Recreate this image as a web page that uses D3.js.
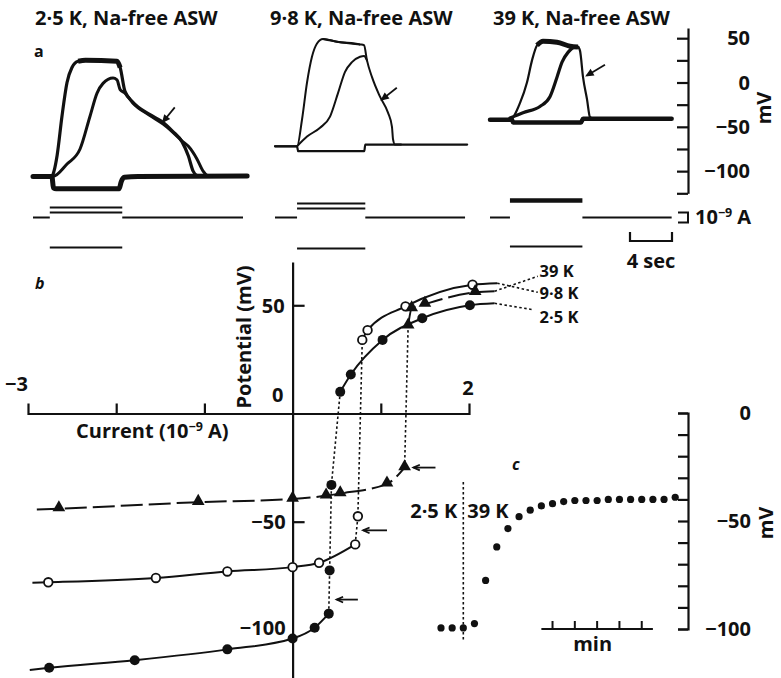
<!DOCTYPE html>
<html>
<head>
<meta charset="utf-8">
<script src="https://cdn.jsdelivr.net/npm/d3@7"></script>
<style>
  body { margin: 0; background: #fff; }
  svg text { font-family: 'Open Sans', 'Lato', sans-serif; font-weight: 700; fill: #111; }
</style>
</head>
<body>
<div id="chart"></div>
<script>

// ---------- DATA ----------

// a: titles of the three recordings
const titlesA = ["2·5 K, Na-free ASW", "9·8 K, Na-free ASW", "39 K, Na-free ASW"];
const ticksA = [50, 0, -50, -100];

// a: potential sweeps, [time (s), potential (mV)]
const sweep25Hyp  = [[0,-106],[1.8,-106],[1.95,-119],[2.2,-120],[8.2,-120],[8.4,-112],[8.7,-107],[10,-106],[20.4,-105.5]];
const sweep25Slow = [[0,-106],[1.9,-106],[3.24,-92],[4.48,-75],[5.43,-38],[6.1,-12],[6.67,-1],[7.62,5],[8.0,3],[8.3,-8],[8.76,-12],[9.5,-23],[11.1,-37],[12.4,-47],[13.3,-56],[14.2,-66],[14.8,-72],[15.6,-86],[16.2,-100],[16.6,-105],[17,-106]];
const sweep25Fast = [[0,-106],[1.8,-106],[2.0,-100],[2.3,-82],[2.76,-38],[3.24,0],[3.71,17],[4.3,24],[5,25],[8.0,24],[8.3,17],[8.76,-10],[9.5,-22],[11.1,-36],[12.4,-45],[13.3,-55],[14.2,-67],[14.8,-83],[15.25,-100],[15.6,-105],[16,-106]];

const sweep98Hyp  = [[0,-72],[2.1,-72],[2.2,-77.5],[8.5,-77.5],[8.6,-70],[18.3,-70]];
const sweep98Slow = [[2.1,-72],[3.05,-61],[4.29,-51],[5.24,-38.5],[6.0,-12],[6.67,12],[7.33,23],[8.1,29],[8.48,30],[8.76,25]];
const sweep98Fast = [[0,-72],[2.1,-72],[2.57,-42],[3.05,0],[3.52,29],[4.0,44],[4.57,49],[5.9,46],[8.1,43],[8.48,42],[8.76,25],[9.24,6],[10.0,-16],[10.76,-34],[11.14,-50],[11.24,-64],[11.43,-70],[12,-70]];

const sweep39Hyp  = [[0,-42],[2.1,-42],[2.2,-45],[8.67,-45],[8.86,-41],[17.3,-41]];
const sweep39Slow = [[1.9,-40],[3.14,-34],[4.76,-27],[5.71,-16],[6.38,6],[6.86,23],[7.43,34],[8.1,40],[8.38,40]];
const sweep39Fast = [[0,-42],[1.9,-42],[2.86,-23],[3.52,0],[4.0,25],[4.48,42],[5.05,46.6],[6.38,45.5],[7.62,41],[8.38,40],[8.57,36],[8.86,6],[9.24,-19],[9.52,-39],[9.8,-41]];

// a: injected current (nA), pulse start/end (s), sweep end (s)
const stim25 = [1.6, 8.5],  steps25 = [1.0, 0.5, -3.0], end25 = 20.0;
const stim98 = [2.1, 8.6],  steps98 = [1.4, 0.9, -3.1], end98 = 18.1;
const stim39 = [1.9, 8.8],  steps39 = [1.7, -2.9],      end39 = 17.3;

// a: arrows [t from, mV from, t to, mV to]
const arrow25 = [13.5, -28, 12.4, -44];
const arrow98 = [11.6, -6, 10.2, -19];
const arrow39 = [10.95, 20, 9.24, 8];

// b: current (nA) / potential (mV) relations
const iK25 = [-2.76, -1.79, -0.74, 0, 0.25, 0.41, 0.42, 0.44, 0.54, 0.66, 1.02, 1.47, 2.01];
const vK25 = [-117.5, -114, -109, -104, -99, -92.5, -72.5, -33, 10, 18, 34, 44, 50];
const iK98 = [-2.77, -1.55, -0.74, 0, 0.30, 0.71, 0.74, 0.79, 0.85, 1.28, 2.04];
const vK98 = [-78, -76, -73, -71, -69, -60.5, -47.5, 34, 38.5, 49.5, 59.5];
const iK39 = [-2.65, -1.07, 0, 0.38, 0.54, 1.07, 1.27, 1.31, 1.35, 1.50, 2.07];
const vK39 = [-44, -41, -39.5, -38, -37, -32.5, -25, 40.5, 48.5, 50.5, 56];
const labelsB = ["39 K", "9·8 K", "2·5 K"];

// c: potential after change from 2.5 K to 39 K
const timeC = [0, 0.5, 1, 1.5, 2, 2.5, 3, 3.5, 4, 4.5, 5, 5.5, 6, 6.5, 7, 7.5, 8, 8.5, 9, 9.5, 10, 10.5];
const potC  = [-99.5, -99.5, -99.5, -97.5, -77.5, -62, -53.5, -48, -45, -43, -42, -41, -40.5, -40.5, -40.5, -40, -40, -40, -40, -40, -40, -39];


// ---------- HELPERS ----------
const INK = "#111";
const FS = 20;

function txt(g, x, y, s, size, anchor, extra) {
	const t = g.append("text")
		.attr("x", x).attr("y", y)
		.attr("font-size", size)
		.attr("text-anchor", anchor || "start")
		.text(s);
	if (extra) extra(t);
	return t;
}

// line with an arrow head at (x2,y2)
function arrow(g, x1, y1, x2, y2, head, filled) {
	const ang = Math.atan2(y2 - y1, x2 - x1);
	const a1 = ang + Math.PI - 0.42, a2 = ang + Math.PI + 0.42;
	g.append("line")
		.attr("x1", x1).attr("y1", y1).attr("x2", x2).attr("y2", y2)
		.attr("stroke", INK).attr("stroke-width", 1.8);
	const p = `M${x2 + head * Math.cos(a1)},${y2 + head * Math.sin(a1)}L${x2},${y2}L${x2 + head * Math.cos(a2)},${y2 + head * Math.sin(a2)}`;
	g.append("path")
		.attr("d", filled ? p + "Z" : p)
		.attr("fill", filled ? INK : "none")
		.attr("stroke", INK).attr("stroke-width", 1.8);
}

const svg = d3.select("#chart").append("svg")
	.attr("width", 781).attr("height", 678);
svg.append("rect").attr("width", 781).attr("height", 678).attr("fill", "#fff");


// ---------- PANEL A ----------
function drawA() {
	const g = svg.append("g");
	const yA = d3.scaleLinear().domain([-125, 61.5]).range([193.3, 28]);
	const yI = d3.scaleLinear().domain([0, 1]).range([217.5, 207.5]);

	const panels = [
		{ title: titlesA[0], tx: 35, x0: 33,  sweeps: [[sweep25Hyp, 5], [sweep25Slow, 3], [sweep25Fast, 3.2]], stim: stim25, steps: steps25, stepW: [2, 2, 2], end: end25, arrow: arrow25 },
		{ title: titlesA[1], tx: 270, x0: 275, sweeps: [[sweep98Hyp, 2.2], [sweep98Slow, 2], [sweep98Fast, 2]], stim: stim98, steps: steps98, stepW: [2, 2, 2], end: end98, arrow: arrow98 },
		{ title: titlesA[2], tx: 493, x0: 490, sweeps: [[sweep39Hyp, 4.5], [sweep39Slow, 3.2], [sweep39Fast, 2.2]], stim: stim39, steps: steps39, stepW: [4.5, 2], end: end39, arrow: arrow39 }
	];

	panels.forEach(p => {
		txt(g, p.tx, 25, p.title, FS);
		const xA = d3.scaleLinear().domain([0, 1]).range([p.x0, p.x0 + 10.5]);
		const line = d3.line().x(d => xA(d[0])).y(d => yA(d[1])).curve(d3.curveMonotoneX);

		p.sweeps.forEach(([s, w]) => {
			g.append("path").attr("d", line(s))
				.attr("fill", "none").attr("stroke", INK)
				.attr("stroke-width", w).attr("stroke-linejoin", "round").attr("stroke-linecap", "round");
		});
		// plateau thickening of the fast sweep
		const fast = p.sweeps[2][0];
		g.append("path").attr("d", line(fast.filter(d => d[0] >= 4.3 && d[0] <= 8.4)))
			.attr("fill", "none").attr("stroke", INK).attr("stroke-width", p.x0 === 275 ? 2 : 5);

		// current monitor
		const cur = [[[0, p.stim[0]], 0, 2], [[p.stim[1], p.end], 0, 2]];
		p.steps.forEach((s, i) => cur.push([p.stim, s, p.stepW[i]]));
		cur.forEach(([t, v, w]) => {
			g.append("line")
				.attr("x1", xA(t[0])).attr("x2", xA(t[1]))
				.attr("y1", yI(v)).attr("y2", yI(v))
				.attr("stroke", INK).attr("stroke-width", w);
		});

		const a = p.arrow;
		arrow(g, xA(a[0]), yA(a[1]), xA(a[2]), yA(a[3]), 6, true);
	});

	txt(g, 34, 57, "a", 16);

	// potential axis
	const ax = g.append("g").attr("transform", "translate(688,0)")
		.call(d3.axisLeft(yA).tickValues(d3.range(-125, 51, 25)).tickSize(11).tickSizeOuter(0).tickFormat(""));
	ax.selectAll("path,line").attr("stroke", INK).attr("stroke-width", 2.2);
	ticksA.forEach(v => txt(g, 750, yA(v) + 7, v < 0 ? "−" + Math.abs(v) : String(v), FS, "end"));
	txt(g, 0, 0, "mV", FS, "middle", t => t.attr("transform", "translate(771,108) rotate(-90)"));

	// current calibration
	g.append("path").attr("d", `M678,${yI(0.5)}H688V${yI(-0.5)}H678`)
		.attr("fill", "none").attr("stroke", INK).attr("stroke-width", 2);
	txt(g, 695, 224, "10", FS, "start", t => {
		t.append("tspan").attr("dy", -7).attr("font-size", 12.5).text("−9");
		t.append("tspan").attr("dy", 7).text(" A");
	});

	// time calibration, 4 s
	const xBar = d3.scaleLinear().domain([0, 1]).range([630, 640.5]);
	g.append("path").attr("d", `M${xBar(0)},232V241H${xBar(4)}V232`)
		.attr("fill", "none").attr("stroke", INK).attr("stroke-width", 2.2);
	txt(g, xBar(2), 268, "4 sec", FS, "middle");
}


// ---------- PANEL B ----------
function drawB() {
	const g = svg.append("g");
	const xB = d3.scaleLinear().domain([-3, 2]).range([28, 469]);
	const yB = d3.scaleLinear().domain([-122, 70]).range([677.5, 262]);

	const xAx = g.append("g").attr("transform", `translate(0,${yB(0)})`)
		.call(d3.axisTop(xB).tickValues([-2, -1, 1]).tickSize(10).tickSizeOuter(10).tickFormat(""));
	xAx.selectAll("path,line").attr("stroke", INK).attr("stroke-width", 2.2);

	const yAx = g.append("g").attr("transform", `translate(${xB(0)},0)`)
		.call(d3.axisRight(yB).tickValues([50, -50]).tickSize(12).tickSizeOuter(0).tickFormat(""));
	yAx.selectAll("path,line").attr("stroke", INK).attr("stroke-width", 2.2);

	txt(g, xB(-3) - 23, yB(0) - 22, "−3", FS, "start");
	txt(g, xB(2) - 1, yB(0) - 18, "2", FS, "middle");
	txt(g, xB(0) - 15, yB(0) - 11, "0", FS, "middle");
	txt(g, xB(0) - 8, yB(50) + 8, "50", FS, "end");
	txt(g, xB(0) - 7, yB(-50) + 7, "−50", FS, "end");
	txt(g, xB(0) - 7, yB(-100) + 5, "−100", FS, "end");
	txt(g, 0, 0, "Current (10", FS, "start", t => {
		t.attr("x", 76).attr("y", 438);
		t.append("tspan").attr("dy", -7).attr("font-size", 12.5).text("−9");
		t.append("tspan").attr("dy", 7).text(" A)");
	});
	txt(g, 0, 0, "Potential (mV)", FS, "middle", t => t.attr("transform", "translate(251,337) rotate(-90)"));
	txt(g, 35, 289, "b", 16, "start", t => t.attr("font-style", "italic"));

	const pts = (is, vs) => is.map((d, i) => [d, vs[i]]);
	const k25 = pts(iK25, vK25), k98 = pts(iK98, vK98), k39 = pts(iK39, vK39);

	const smooth = d3.line().x(d => xB(d[0])).y(d => yB(d[1])).curve(d3.curveMonotoneX);
	const straight = d3.line().x(d => xB(d[0])).y(d => yB(d[1]));
	const draw = (d, gen, dash, w) => g.append("path").attr("d", gen(d))
		.attr("fill", "none").attr("stroke", INK).attr("stroke-width", w || 2)
		.attr("stroke-dasharray", dash || null);

	// 2.5 K
	draw([[-2.98, -118.5]].concat(k25.slice(0, 6)), smooth);
	draw(k25.slice(5, 9), straight, "2.5,2.5", 1.6);
	draw(k25.slice(8).concat([[2.29, 50.9]]), smooth);
	// 9.8 K
	draw([[-2.95, -78.2]].concat(k98.slice(0, 6)), smooth);
	draw(k98.slice(5, 8), straight, "2.5,2.5", 1.6);
	draw(k98.slice(7).concat([[2.32, 60.2]]), smooth);
	// 39 K
	draw([[-2.9, -44.4]].concat(k39.slice(0, 7)), smooth, "22,6");
	draw(k39.slice(6, 8), straight, "2.5,2.5", 1.6);
	draw(k39.slice(7).concat([[2.29, 56.5]]), smooth, "22,6");

	// leaders to labels
	draw([[2.29, 56.5], [2.78, 63.4]], straight, "2.5,2.5", 1.6);
	draw([[2.32, 60.2], [2.78, 56]], straight, "2.5,2.5", 1.6);
	draw([[2.29, 50.9], [2.72, 48]], straight, "2.5,2.5", 1.6);
	txt(g, xB(2.8), yB(66) + 6, labelsB[0], 16.5);
	txt(g, xB(2.8), yB(55.6) + 6, labelsB[1], 16.5);
	txt(g, xB(2.8), yB(44.5) + 6, labelsB[2], 16.5);

	// markers
	g.selectAll(".f").data(k25).join("circle")
		.attr("cx", d => xB(d[0])).attr("cy", d => yB(d[1])).attr("r", 5).attr("fill", INK);
	g.selectAll(".o").data(k98).join("circle")
		.attr("cx", d => xB(d[0])).attr("cy", d => yB(d[1])).attr("r", 4.3)
		.attr("fill", "#fff").attr("stroke", INK).attr("stroke-width", 1.8);
	g.selectAll(".t").data(k39).join("path")
		.attr("d", d3.symbol(d3.symbolTriangle).size(70))
		.attr("transform", d => `translate(${xB(d[0])},${yB(d[1]) - 1})`)
		.attr("fill", INK);

	// arrows marking threshold points
	[[1.62, 1.37, -25], [1.07, 0.8, -54], [0.74, 0.5, -86]].forEach(a =>
		arrow(g, xB(a[0]), yB(a[2]), xB(a[1]), yB(a[2]), 7, false));
}


// ---------- PANEL C ----------
function drawC() {
	const g = svg.append("g");
	const xC = d3.scaleLinear().domain([0, 10.5]).range([441, 675.2]);
	const yC = d3.scaleLinear().domain([-100, 0]).range([629, 413]);

	const yAx = g.append("g").attr("transform", "translate(688,0)")
		.call(d3.axisLeft(yC).tickValues(d3.range(-100, 1, 10)).tickSize(10).tickSizeOuter(10).tickFormat(""));
	yAx.selectAll("path,line").attr("stroke", INK).attr("stroke-width", 2.2);
	txt(g, 751, yC(0) + 7, "0", FS, "end");
	txt(g, 751, yC(-50) + 7, "−50", FS, "end");
	txt(g, 751, yC(-100) + 7, "−100", FS, "end");
	txt(g, 0, 0, "mV", FS, "middle", t => t.attr("transform", "translate(773,523) rotate(-90)"));

	// minute bar
	g.append("line").attr("x1", xC(4.5)).attr("x2", xC(9.5)).attr("y1", yC(-100)).attr("y2", yC(-100))
		.attr("stroke", INK).attr("stroke-width", 2.2);
	[5, 6, 7, 8, 9].forEach(t => g.append("line")
		.attr("x1", xC(t)).attr("x2", xC(t)).attr("y1", yC(-100)).attr("y2", yC(-100) - 8)
		.attr("stroke", INK).attr("stroke-width", 2));
	txt(g, xC(6.8), 651, "min", FS, "middle");

	// solution change
	g.append("line").attr("x1", xC(1)).attr("x2", xC(1)).attr("y1", yC(-32)).attr("y2", yC(-105))
		.attr("stroke", INK).attr("stroke-width", 1.6).attr("stroke-dasharray", "2.5,2.5");
	txt(g, xC(1) - 6, yC(-48.5), "2·5 K", FS, "end");
	txt(g, xC(1) + 4, yC(-48.5), "39 K", FS, "start");
	txt(g, 512, 470, "c", 16, "start", t => t.attr("font-style", "italic"));

	g.selectAll(".c").data(timeC).join("circle")
		.attr("cx", (d) => xC(d)).attr("cy", (d, i) => yC(potC[i])).attr("r", 3.6).attr("fill", INK);
}

drawA();
drawB();
drawC();
</script>
</body>
</html>
